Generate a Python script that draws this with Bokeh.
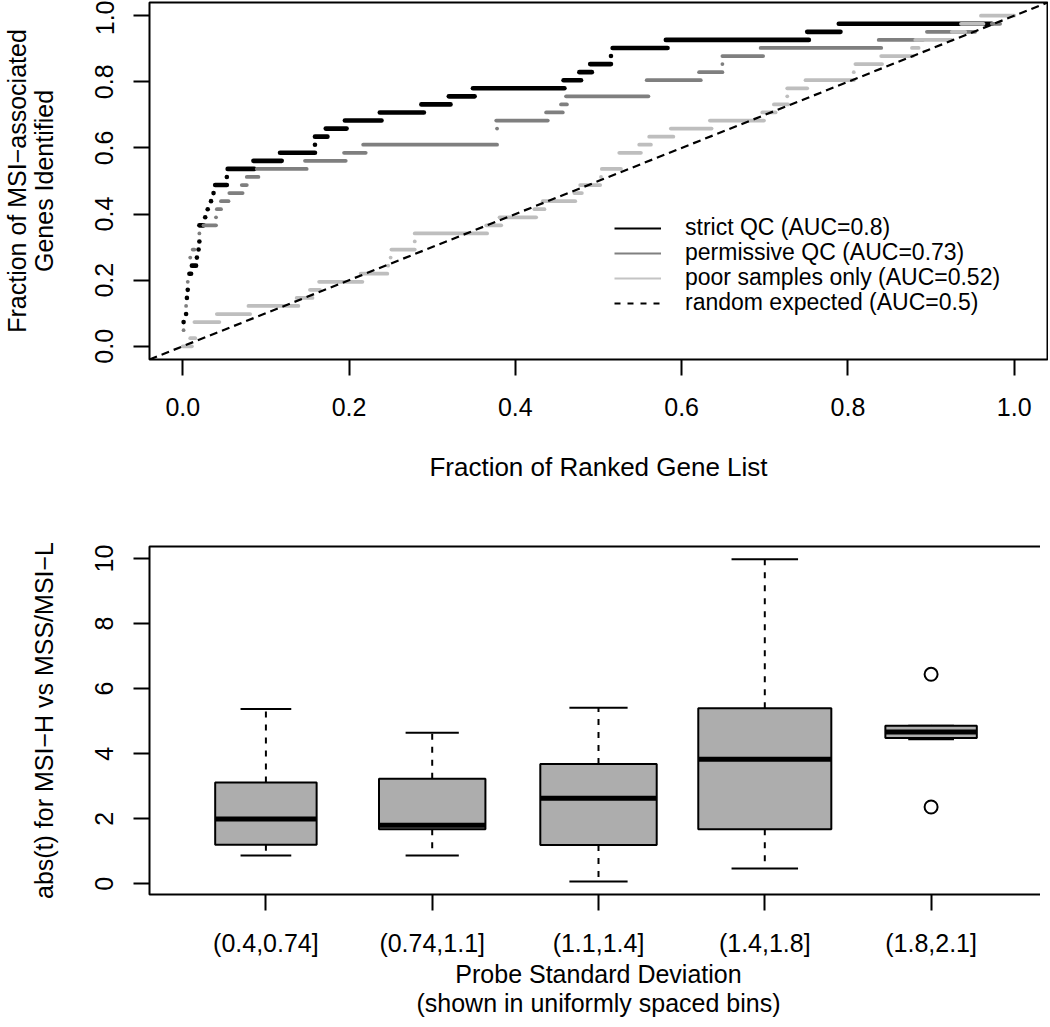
import bokeh.plotting as plotting
from bokeh.models import Range1d, FixedTicker, NumeralTickFormatter, Legend, LegendItem, Slope
from bokeh.layouts import column
from bokeh.embed import file_html
from bokeh.resources import INLINE

FONT = "Liberation Sans"

# ---- top panel: ranked gene list vs fraction of MSI genes found ----
n_genes = 41

strict_level = [3, 4, 6, 7, 9, 10, 11, 12, 13, 15, 16, 17, 18, 19, 20, 21, 22, 23, 24, 25,
                26, 27, 28, 29, 30, 31, 32, 33, 34, 35, 36, 37, 38, 39, 40]
strict_x0 = [0.001, 0.004, 0.005, 0.006, 0.008, 0.011, 0.017, 0.019, 0.020, 0.020, 0.027, 0.030,
             0.034, 0.037, 0.039, 0.053, 0.054, 0.085, 0.117, 0.159, 0.159, 0.172, 0.195, 0.237,
             0.287, 0.320, 0.349, 0.458, 0.477, 0.490, 0.515, 0.517, 0.581, 0.751, 0.789]
strict_x1 = [0.001, 0.004, 0.005, 0.006, 0.010, 0.016, 0.017, 0.019, 0.020, 0.025, 0.027, 0.030,
             0.034, 0.037, 0.053, 0.053, 0.086, 0.119, 0.159, 0.159, 0.174, 0.197, 0.239, 0.290,
             0.322, 0.351, 0.459, 0.479, 0.492, 0.515, 0.515, 0.583, 0.753, 0.791, 0.973]

perm_level = [2, 5, 8, 11, 12, 14, 15, 16, 17, 18, 19, 20, 21, 22, 23, 24, 25, 27, 28, 29,
              30, 31, 33, 34, 35, 36, 37, 38, 39, 40]
perm_x0 = [0.001, 0.004, 0.006, 0.009, 0.012, 0.020, 0.025, 0.040, 0.041, 0.046, 0.056, 0.071,
           0.077, 0.089, 0.147, 0.194, 0.217, 0.378, 0.377, 0.437, 0.455, 0.461, 0.558, 0.621,
           0.649, 0.649, 0.695, 0.837, 0.895, 0.973]
perm_x1 = [0.001, 0.004, 0.006, 0.009, 0.014, 0.020, 0.040, 0.040, 0.046, 0.055, 0.072, 0.077,
           0.091, 0.149, 0.196, 0.220, 0.378, 0.378, 0.439, 0.457, 0.462, 0.560, 0.623, 0.649,
           0.649, 0.698, 0.840, 0.890, 0.953, 0.983]

poor_level = [0, 1, 3, 4, 5, 6, 7, 8, 9, 10, 11, 12, 13, 14, 15, 16, 17, 18, 19, 20, 21, 22,
              24, 25, 26, 27, 28, 29, 30, 31, 32, 33, 34, 35, 36, 37, 38, 39, 40, 41]
poor_x0 = [0.000, 0.009, 0.014, 0.041, 0.079, 0.137, 0.153, 0.164, 0.214, 0.247, 0.250, 0.251,
           0.279, 0.279, 0.365, 0.381, 0.423, 0.433, 0.471, 0.478, 0.503, 0.504, 0.525, 0.549,
           0.561, 0.587, 0.634, 0.697, 0.711, 0.727, 0.727, 0.749, 0.807, 0.809, 0.840, 0.877,
           0.881, 0.925, 0.936, 0.960]
poor_x1 = [0.011, 0.015, 0.044, 0.081, 0.139, 0.156, 0.165, 0.216, 0.246, 0.247, 0.250, 0.279,
           0.279, 0.366, 0.383, 0.425, 0.435, 0.472, 0.480, 0.502, 0.503, 0.527, 0.551, 0.563,
           0.590, 0.636, 0.699, 0.713, 0.728, 0.727, 0.751, 0.807, 0.807, 0.841, 0.878, 0.885,
           0.925, 0.941, 0.963, 1.000]

legend_labels = ["strict QC (AUC=0.8)", "permissive QC (AUC=0.73)",
                 "poor samples only (AUC=0.52)", "random expected (AUC=0.5)"]

# ---- bottom panel: boxplots of |t| per SD bin ----
bins = ["(0.4,0.74]", "(0.74,1.1]", "(1.1,1.4]", "(1.4,1.8]", "(1.8,2.1]"]
box_width = [0.61, 0.64, 0.70, 0.80, 0.55]
whisker_lo = [0.87, 0.87, 0.07, 0.47, 4.44]
q1 = [1.20, 1.68, 1.19, 1.68, 4.48]
median = [1.99, 1.80, 2.63, 3.83, 4.67]
q3 = [3.11, 3.23, 3.68, 5.40, 4.86]
whisker_hi = [5.37, 4.64, 5.41, 9.98, 4.86]
outlier_bin = [5, 5]
outlier_val = [6.44, 2.36]


def style_axes(p):
    p.outline_line_color = "black"
    p.outline_line_width = 2
    p.grid.visible = False
    for ax in p.axis:
        ax.axis_line_color = None
        ax.major_tick_out = 16
        ax.major_tick_in = 0
        ax.major_tick_line_width = 2
        ax.major_tick_line_color = "black"
        ax.minor_tick_line_color = None
        ax.major_label_text_font = FONT
        ax.major_label_text_font_size = "25px"
        ax.major_label_text_color = "black"
        ax.axis_label_text_font = FONT
        ax.axis_label_text_font_size = "25px"
        ax.axis_label_text_font_style = "normal"
        ax.axis_label_text_color = "black"
    p.yaxis.major_label_orientation = "vertical"
    p.yaxis.major_label_standoff = 20
    p.yaxis.axis_label_standoff = 35


def create_top():
    # frame width fixed, outer height fixed so the page stays inside the window
    fig = plotting.figure(frame_width=898, height=489,
                          x_range=Range1d(-0.04, 1.04), y_range=Range1d(-0.04, 1.04),
                          min_border_left=141, min_border_right=1, min_border_top=2,
                          min_border_bottom=130,
                          output_backend="svg", toolbar_location=None)
    style_axes(fig)
    ticks = [0.0, 0.2, 0.4, 0.6, 0.8, 1.0]
    fig.xaxis.ticker = FixedTicker(ticks=ticks)
    fig.yaxis.ticker = FixedTicker(ticks=ticks)
    fig.xaxis.formatter = NumeralTickFormatter(format="0.0")
    fig.yaxis.formatter = NumeralTickFormatter(format="0.0")
    fig.xaxis.axis_label = "Fraction of Ranked Gene List"
    fig.xaxis.axis_label_text_font_size = "26px"
    fig.yaxis.axis_label = "Fraction of MSI\u2212associated\nGenes Identified"
    fig.yaxis.axis_label_text_line_height = 0.93
    fig.xaxis.major_label_standoff = 22
    fig.xaxis.axis_label_standoff = 33

    series = [
        (strict_level, strict_x0, strict_x1, "#000000", 4.6),
        (perm_level, perm_x0, perm_x1, "#7f7f7f", 3.8),
        (poor_level, poor_x0, poor_x1, "#bebebe", 3.8),
    ]
    for lev, x0, x1, color, lw in series:
        y = [k / n_genes for k in lev]
        fig.segment(x0=x0, y0=y, x1=x1, y1=y, line_color=color, line_width=lw,
                    line_cap="round")

    diag = Slope(gradient=1, y_intercept=0, line_color="black", line_width=2.2,
                 line_dash="8 5")
    fig.add_layout(diag)

    # one small legend per row, so the rows sit close together as in the original
    row_y = [118, 93, 68, 43]
    for label, color, dash, ly in zip(legend_labels,
                                      ["#000000", "#808080", "#c4c4c4", "#000000"],
                                      ["solid", "solid", "solid", "6 7"], row_y):
        r = fig.line(x=[float("nan")], y=[float("nan")], line_color=color, line_width=2,
                     line_dash=dash)
        legend = Legend(items=[LegendItem(label=label, renderers=[r])], location=(465, ly),
                        padding=0, margin=0, glyph_width=47, label_standoff=24,
                        border_line_color=None, background_fill_alpha=0,
                        label_text_font=FONT, label_text_font_size="23px",
                        label_text_color="black")
        fig.add_layout(legend)
    return fig


def create_bottom():
    fig = plotting.figure(frame_width=898, height=530,
                          x_range=Range1d(0.3, 5.7), y_range=Range1d(-0.33, 10.37),
                          min_border_left=141, min_border_right=1, min_border_top=57,
                          min_border_bottom=125,
                          output_backend="svg", toolbar_location=None)
    style_axes(fig)
    pos = list(range(1, len(bins) + 1))
    fig.xaxis.ticker = FixedTicker(ticks=pos)
    fig.xaxis.major_label_overrides = {i: b for i, b in zip(pos, bins)}
    fig.yaxis.ticker = FixedTicker(ticks=[0, 2, 4, 6, 8, 10])
    fig.xaxis.axis_label = "Probe Standard Deviation\n(shown in uniformly spaced bins)"
    fig.xaxis.axis_label_text_line_height = 1.05
    fig.yaxis.axis_label = "abs(t) for MSI\u2212H vs MSS/MSI\u2212L"
    fig.xaxis.major_label_standoff = 18
    fig.xaxis.axis_label_standoff = 0

    left = [p - w / 2 for p, w in zip(pos, box_width)]
    right = [p + w / 2 for p, w in zip(pos, box_width)]
    cap_l = [p - w / 4 for p, w in zip(pos, box_width)]
    cap_r = [p + w / 4 for p, w in zip(pos, box_width)]

    # whiskers
    fig.segment(x0=pos, y0=q3, x1=pos, y1=whisker_hi, line_color="black", line_width=2,
                line_dash="6 7")
    fig.segment(x0=pos, y0=q1, x1=pos, y1=whisker_lo, line_color="black", line_width=2,
                line_dash="6 7")
    fig.segment(x0=cap_l, y0=whisker_hi, x1=cap_r, y1=whisker_hi, line_color="black",
                line_width=2)
    fig.segment(x0=cap_l, y0=whisker_lo, x1=cap_r, y1=whisker_lo, line_color="black",
                line_width=2)
    # boxes
    fig.quad(left=left, right=right, bottom=q1, top=q3, fill_color="#adadad",
             line_color="black", line_width=2)
    fig.segment(x0=left, y0=median, x1=right, y1=median, line_color="black", line_width=5)
    # outliers
    fig.scatter(x=outlier_bin, y=outlier_val, marker="circle", size=13, fill_color="white",
                line_color="black", line_width=2)
    return fig


top = create_top()
bottom = create_bottom()
layout = column(top, bottom)
open("out.html", "w").write(file_html(layout, INLINE))
